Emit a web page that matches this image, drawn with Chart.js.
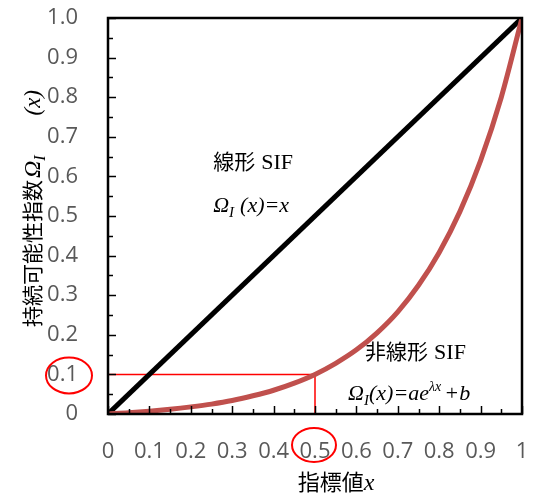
<!DOCTYPE html>
<html>
<head>
<meta charset="utf-8">
<script src="https://cdn.jsdelivr.net/npm/chart.js@4"></script>
<style>
  html, body { margin: 0; padding: 0; background: #fff; }
  canvas { display: block; }
</style>
</head>
<body>
<canvas id="sif-chart" width="539" height="497"></canvas>
<script>
// data
var xTicks = [0, 0.1, 0.2, 0.3, 0.4, 0.5, 0.6, 0.7, 0.8, 0.9, 1];
var yTicks = [0, 0.1, 0.2, 0.3, 0.4, 0.5, 0.6, 0.7, 0.8, 0.9, 1];
var minorTicks = [0.05, 0.15, 0.25, 0.35, 0.45, 0.55, 0.65, 0.75, 0.85, 0.95];

var linearX = [0, 1];
var linearY = [0, 1];

var curveX = [0, 0.05, 0.1, 0.15, 0.2, 0.25, 0.3, 0.35, 0.4, 0.45, 0.5, 0.55, 0.6, 0.65, 0.7, 0.75, 0.8, 0.85, 0.9, 0.95, 1];
var curveY = [0, 0.003, 0.007, 0.012, 0.018, 0.025, 0.034, 0.046, 0.060, 0.078, 0.100, 0.128, 0.162, 0.205, 0.258, 0.325, 0.408, 0.511, 0.640, 0.800, 1.0];

var guideX = [0, 0.5, 0.5];
var guideY = [0.1, 0.1, 0];

function pts(xs, ys) {
  return xs.map(function (x, i) { return { x: x, y: ys[i] }; });
}

var CJK = '"Noto Sans CJK JP", sans-serif';
var SERIF = '"Liberation Serif", "DejaVu Serif", serif';

// draw a line of mixed-font text, left to right
function drawRich(ctx, x, y, parts) {
  parts.forEach(function (p) {
    ctx.font = p.font;
    ctx.fillText(p.t, x, y + (p.dy || 0));
    x += ctx.measureText(p.t).width + (p.gap || 0);
  });
  return x;
}
function richWidth(ctx, parts) {
  var w = 0;
  parts.forEach(function (p) {
    ctx.font = p.font;
    w += ctx.measureText(p.t).width + (p.gap || 0);
  });
  return w;
}

var decorations = {
  id: 'decorations',
  afterDatasetsDraw: function (chart) {
    var ctx = chart.ctx;
    var a = chart.chartArea;
    var xs = chart.scales.x, ys = chart.scales.y;
    ctx.save();

    // inner ticks, major a bit longer
    ctx.strokeStyle = '#000';
    ctx.lineWidth = 1.5;
    function tick(v, len) {
      var py = Math.round(ys.getPixelForValue(v)) + 0.5;
      ctx.beginPath(); ctx.moveTo(a.left, py); ctx.lineTo(a.left + len, py); ctx.stroke();
      var px = Math.round(xs.getPixelForValue(v)) + 0.5;
      ctx.beginPath(); ctx.moveTo(px, a.bottom); ctx.lineTo(px, a.bottom - len); ctx.stroke();
    }
    xTicks.forEach(function (v) { tick(v, 8); });
    minorTicks.forEach(function (v) { tick(v, 5); });

    // frame
    ctx.lineWidth = 2.5;
    ctx.strokeRect(a.left, a.top, a.right - a.left, a.bottom - a.top);

    // red circles round 0.1 and 0.5 labels
    ctx.strokeStyle = '#ff0000';
    ctx.lineWidth = 2;
    ctx.beginPath();
    ctx.ellipse(69, ys.getPixelForValue(0.1) + 1, 23, 18, 0, 0, Math.PI * 2);
    ctx.stroke();
    ctx.beginPath();
    ctx.ellipse(xs.getPixelForValue(0.5) - 1, 445, 22, 17, 0, 0, Math.PI * 2);
    ctx.stroke();

    // annotations
    ctx.fillStyle = '#000';
    ctx.textBaseline = 'alphabetic';
    ctx.textAlign = 'left';
    drawRich(ctx, xs.getPixelForValue(0.254), ys.getPixelForValue(0.618), [
      { t: '線形', font: '21px ' + CJK, gap: 6 },
      { t: 'SIF', font: '22px ' + SERIF }
    ]);
    drawRich(ctx, xs.getPixelForValue(0.254), ys.getPixelForValue(0.51), [
      { t: 'Ω', font: 'italic 22px ' + SERIF },
      { t: 'I', font: 'italic 15px ' + SERIF, dy: 5, gap: 6 },
      { t: '(x)=x', font: 'italic 22px ' + SERIF }
    ]);
    drawRich(ctx, xs.getPixelForValue(0.621), ys.getPixelForValue(0.138), [
      { t: '非線形', font: '21px ' + CJK, gap: 6 },
      { t: 'SIF', font: '22px ' + SERIF }
    ]);
    drawRich(ctx, xs.getPixelForValue(0.58), ys.getPixelForValue(0.035), [
      { t: 'Ω', font: 'italic 22px ' + SERIF },
      { t: 'I', font: 'italic 15px ' + SERIF, dy: 5 },
      { t: '(x)=ae', font: 'italic 22px ' + SERIF },
      { t: 'λx', font: 'italic 14px ' + SERIF, dy: -9, gap: 3 },
      { t: '+b', font: 'italic 22px ' + SERIF }
    ]);

    // x axis title
    var xt = [
      { t: '指標値', font: '22px ' + CJK },
      { t: 'x', font: 'italic 24px ' + SERIF }
    ];
    var w = richWidth(ctx, xt);
    drawRich(ctx, 336 - w / 2, 490, xt);

    // y axis title, rotated: u runs upward on screen (u = -screenY)
    ctx.translate(40, 0);
    ctx.rotate(-Math.PI / 2);
    var u = drawRich(ctx, -327, 0, [
      { t: '持続可能性指数', font: '21px ' + CJK, gap: 2 },
      { t: 'Ω', font: 'italic 24px ' + SERIF },
      { t: 'I', font: 'italic 16px ' + SERIF, dy: 5 }
    ]);
    ctx.font = 'italic 23px ' + SERIF;
    var px = ctx.measureText('(x)').width;
    ctx.fillText('(x)', Math.max(u + 8, -90 - px), 0);

    ctx.restore();
  }
};

var tickFont = { family: '"Open Sans", "Liberation Sans", sans-serif', size: 22 };

new Chart(document.getElementById('sif-chart'), {
  type: 'line',
  data: {
    datasets: [
      {
        label: '非線形 SIF',
        data: pts(curveX, curveY),
        borderColor: '#c0504d',
        borderWidth: 5,
        pointRadius: 0,
        cubicInterpolationMode: 'monotone',
        fill: false
      },
      {
        label: '線形 SIF',
        data: pts(linearX, linearY),
        borderColor: '#000000',
        borderWidth: 5,
        pointRadius: 0,
        fill: false
      },
      {
        label: 'guide',
        data: pts(guideX, guideY),
        borderColor: '#ff0000',
        borderWidth: 1.5,
        pointRadius: 0,
        tension: 0,
        fill: false
      }
    ]
  },
  options: {
    responsive: false,
    animation: false,
    devicePixelRatio: 1,
    layout: { padding: { top: 18, right: 17, left: 0, bottom: 0 } },
    plugins: {
      legend: { display: false },
      tooltip: { enabled: false }
    },
    scales: {
      x: {
        type: 'linear',
        min: 0,
        max: 1,
        afterBuildTicks: function (scale) {
          scale.ticks = xTicks.map(function (v) { return { value: v }; });
        },
        afterFit: function (scale) {
          scale.height = 83;
          scale.paddingLeft = 0;
          scale.paddingRight = 0;
        },
        grid: { display: false },
        border: { display: false },
        ticks: {
          color: '#595959',
          font: tickFont,
          padding: 17,
          maxRotation: 0,
          autoSkip: false,
          callback: function (v) { return (v === 0 || v === 1) ? String(v) : v.toFixed(1); }
        }
      },
      y: {
        type: 'linear',
        min: 0,
        max: 1,
        afterBuildTicks: function (scale) {
          scale.ticks = yTicks.map(function (v) { return { value: v }; });
        },
        afterFit: function (scale) {
          scale.width = 108;
          scale.paddingTop = 0;
          scale.paddingBottom = 0;
        },
        grid: { display: false },
        border: { display: false },
        ticks: {
          color: '#595959',
          font: tickFont,
          padding: 22,
          autoSkip: false,
          callback: function (v) { return v === 0 ? '0' : v.toFixed(1); }
        }
      }
    }
  },
  plugins: [decorations]
});
</script>
</body>
</html>
